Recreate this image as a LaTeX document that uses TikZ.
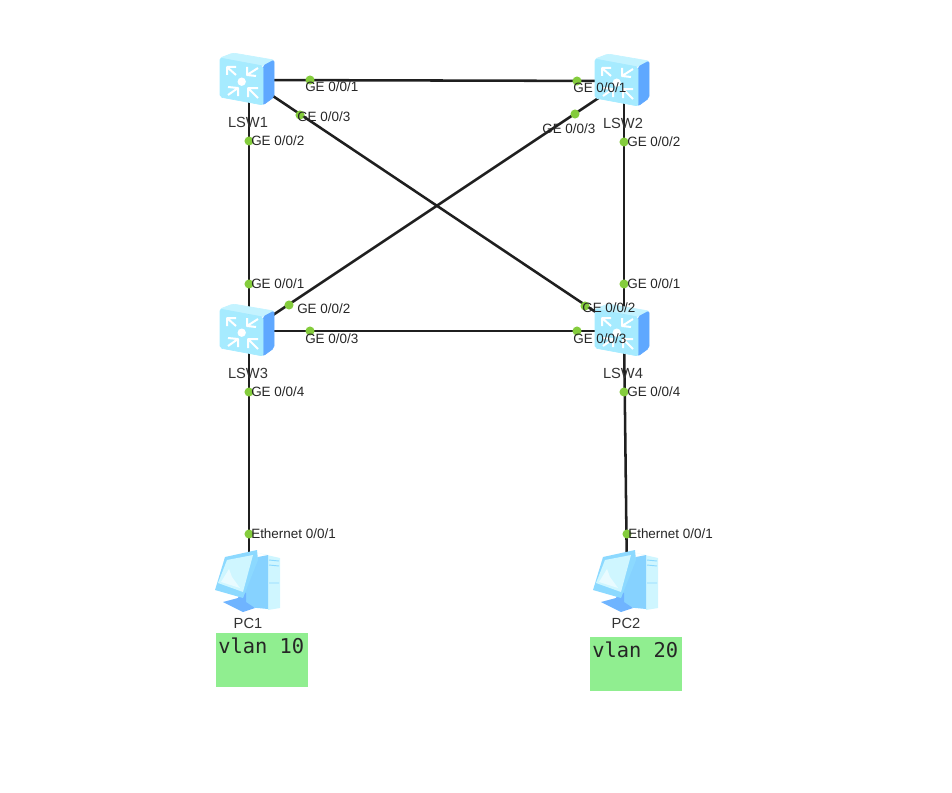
\documentclass[tikz,border=0pt]{standalone}
\usepackage{fontspec}
\setmainfont{Liberation Sans}
\newfontfamily\vlanfont{DejaVu Sans Mono}
\definecolor{swfront}{HTML}{A6EBFF}
\definecolor{swtop}{HTML}{C4F3FF}
\definecolor{swside}{HTML}{5FA8FF}
\definecolor{portgreen}{HTML}{84CC3C}
\definecolor{vlangreen}{HTML}{90EE90}
\definecolor{pclight}{HTML}{CFF6FF}
\definecolor{pcmid}{HTML}{8CD9FF}
\definecolor{pcblue}{HTML}{6FB4FF}
\tikzset{
  x=0.75pt,y=-0.75pt,
  hub/.style={inner sep=0pt,minimum size=0pt,outer sep=0pt},
  link/.style={draw=black!88,line width=1.9pt},
  port/.style={circle,fill=portgreen,inner sep=0pt,minimum size=6.8pt},
  plabel/.style={anchor=west,inner sep=0pt,font=\fontsize{10.1pt}{11pt}\selectfont,text=black!85},
  devname/.style={anchor=center,inner sep=0pt,font=\fontsize{11pt}{12pt}\selectfont,text=black!80},
  vlanbox/.style={fill=vlangreen,draw=none,anchor=north west,minimum width=69pt,minimum height=40.5pt,inner sep=0pt},
  vlantext/.style={anchor=west,inner sep=0pt,font=\fontsize{15.3pt}{17pt}\vlanfont,text=black!85},
  swarrow/.style={draw=white,line width=1.5pt,line join=round},
  switchicon/.pic={
    \filldraw[swtop,rounded corners=1.5pt,line width=.5pt] (-29,-22) -- (-16,-27) -- (25,-20) -- (14,-14) -- cycle;
    \filldraw[swside,rounded corners=1.5pt,line width=.5pt] (14,-14) -- (25,-20) -- (25,17) -- (14,25) -- cycle;
    \filldraw[swfront,rounded corners=1.5pt,line width=.5pt] (-29,-22) -- (14,-14) -- (14,25) -- (-29,17) -- cycle;
    \fill[white] (-7.3,1.7) circle (4.2);
    \draw[swarrow] (-13,-5) -- (-22,-13) (-22,-5) -- (-22,-13) -- (-13,-13);
    \draw[swarrow] (-2,-5) -- (9,-12) (-2,-13) -- (-2,-5) -- (7,-4);
    \draw[swarrow] (-11,8) -- (-21,15) (-21,7) -- (-11,8) -- (-11,16);
    \draw[swarrow] (-1,8) -- (9,18) (-1,17) -- (-1,8) -- (9,8);
  },
  pcicon/.pic={
    \fill[pclight] (9,-28) -- (31,-23) -- (31,27) -- (19,29) -- (19,-26) -- cycle;
    \fill[pcmid!80!pcblue] (9,-24) -- (19,-26) -- (19,28) -- (-2,26) -- (-8,17) -- cycle;
    \draw[pcmid,line width=.7pt] (20,-21) -- (30,-20) (20,-16) -- (30,-15) (20,2) -- (30,2);
    \fill[pcblue] (-26,21) -- (-11,17) -- (-8,10) -- (-3,12) -- (-3,21) -- (6,27) -- (-6,31) -- cycle;
    \fill[pcmid] (-34,9) -- (-24,-24) -- (8,-31) -- (9,-21) -- (-6,17) -- cycle;
    \fill[pclight] (-31,2) -- (-22,-21) -- (4,-26) -- (-6,11) -- cycle;
    \fill[white!55!pclight] (-28,1) -- (-20,-12) -- (-17,-4) -- (-9,7) -- cycle;
  }
}
\begin{document}
\begin{tikzpicture}
\useasboundingbox (0,0) rectangle (952,792);
% hubs
\node[hub] (lsw1) at (249,80) {};
\node[hub] (lsw2) at (624,81) {};
\node[hub] (lsw3) at (249,331) {};
\node[hub] (lsw4) at (624,331) {};
\node[hub] (pc1) at (249,581) {};
\node[hub] (pc2) at (627,581) {};
% links
\draw[link] (lsw1.center) -- (lsw2.center);
\draw[link] (lsw1.center) -- (lsw3.center);
\draw[link] (lsw2.center) -- (lsw4.center);
\draw[link] (lsw1.center) -- (lsw4.center);
\draw[link] (lsw2.center) -- (lsw3.center);
\draw[link] (lsw3.center) -- (lsw4.center);
\draw[link] (lsw3.center) -- (pc1.center);
\draw[link] (lsw4.center) -- (pc2.center);
% icons
\pic at (lsw1) {switchicon};
\pic at (lsw2) {switchicon};
\pic at (lsw3) {switchicon};
\pic at (lsw4) {switchicon};
\pic at (pc1) {pcicon};
\pic at (pc2) {pcicon};
% port dots
\foreach \n/\x/\y in {a/310/80,b/300/115,c/249/141,d/577/81,e/575/114,f/624/142,g/249/284,h/289/305,i/310/331,j/624/284,k/585/306,l/577/331,m/249/392,n/624/392,o/249/534,p/627/534}
  \node[port] (dot\n) at (\x,\y) {};
% port labels
\node[plabel] (la) at (305,87) {GE 0/0/1};
\node[plabel] (lb) at (297,117) {GE 0/0/3};
\node[plabel] (lc) at (251,141) {GE 0/0/2};
\node[plabel] (ld) at (573,88) {GE 0/0/1};
\node[plabel] (le) at (542,129) {GE 0/0/3};
\node[plabel] (lf) at (627,142) {GE 0/0/2};
\node[plabel] (lg) at (251,284) {GE 0/0/1};
\node[plabel] (lh) at (297,309) {GE 0/0/2};
\node[plabel] (li) at (305,339) {GE 0/0/3};
\node[plabel] (lj) at (627,284) {GE 0/0/1};
\node[plabel] (lk) at (582,308) {GE 0/0/2};
\node[plabel] (ll) at (573,339) {GE 0/0/3};
\node[plabel] (lm) at (251,392) {GE 0/0/4};
\node[plabel] (ln) at (627,392) {GE 0/0/4};
\node[plabel] (lo) at (251,534) {Ethernet 0/0/1};
\node[plabel] (lp) at (628,534) {Ethernet 0/0/1};
% device names
\node[devname] (n1) at (248,122) {LSW1};
\node[devname] (n2) at (623,123) {LSW2};
\node[devname] (n3) at (248,373) {LSW3};
\node[devname] (n4) at (623,373) {LSW4};
\node[devname] (n5) at (248,623) {PC1};
\node[devname] (n6) at (626,623) {PC2};
% vlan boxes
\node[vlanbox] (v1) at (216,633) {};
\node[vlanbox] (v2) at (590,637) {};
\node[vlantext] (t1) at (218,646) {vlan 10};
\node[vlantext] (t2) at (592,650) {vlan 20};
\end{tikzpicture}
\end{document}
